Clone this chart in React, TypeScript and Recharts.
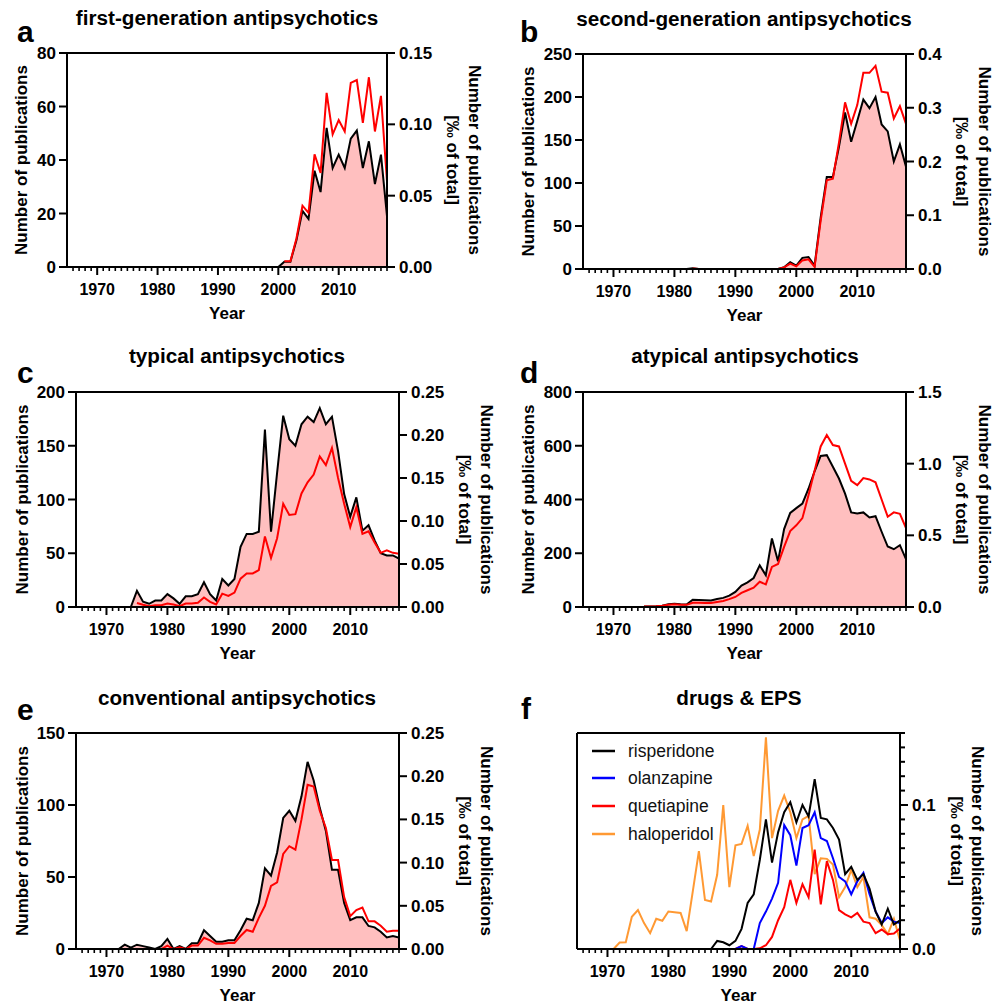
import React from 'react';
import { ComposedChart, Line, Area, XAxis, YAxis, ReferenceLine } from 'recharts';

// ---------- categories ----------
const FIRST_YEAR = 1965;
const LAST_YEAR = 2018;
const YEARS = Array.from({ length: LAST_YEAR - FIRST_YEAR + 1 }, (_, i) => FIRST_YEAR + i);
const YEAR_TICKS = YEARS.slice(1);
const DECADE_LABELS = [1970, 1980, 1990, 2000, 2010];

// ---------- a: first-generation ----------
const A_COUNT_START = 2000;
const A_COUNT = [0, 2, 2, 10, 21, 18, 36, 28, 52, 37, 42, 37, 48, 51, 37, 47, 31, 42, 19];
const A_SHARE_START = 2001;
const A_SHARE = [0.004, 0.004, 0.02, 0.043, 0.038, 0.079, 0.066, 0.122, 0.093, 0.103, 0.095, 0.129, 0.131, 0.101, 0.133, 0.095, 0.12, 0.06];

// ---------- b: second-generation ----------
const B_COUNT_START = 1982;
const B_COUNT = [0, 1, 0, 0, 0, 0, 0, 0, 0, 0, 0, 0, 0, 0, 0, 0, 2, 8, 4, 13, 14, 4, 60, 107, 107, 142, 182, 148, 172, 197, 187, 200, 168, 160, 125, 145, 119];
const B_SHARE_START = 1983;
const B_SHARE = [0.001, 0, 0, 0, 0, 0, 0, 0, 0, 0, 0, 0, 0, 0, 0, 0.003, 0.01, 0.005, 0.016, 0.018, 0.004, 0.09, 0.165, 0.168, 0.235, 0.31, 0.27, 0.305, 0.365, 0.365, 0.378, 0.33, 0.328, 0.28, 0.303, 0.27];

// ---------- c: typical ----------
const C_COUNT_START = 1974;
const C_COUNT = [0, 15, 5, 3, 6, 6, 12, 8, 3, 10, 10, 12, 23, 12, 6, 26, 20, 26, 56, 68, 68, 70, 165, 70, 125, 178, 156, 150, 170, 177, 172, 185, 170, 177, 145, 105, 84, 102, 71, 76, 62, 50, 48, 48, 45];
const C_SHARE_START = 1975;
const C_SHARE = [0.0047, 0.0027, 0.001, 0.002, 0.002, 0.004, 0.003, 0.001, 0.004, 0.004, 0.005, 0.011, 0.006, 0.003, 0.0155, 0.0128, 0.0167, 0.033, 0.039, 0.039, 0.043, 0.082, 0.057, 0.08, 0.12, 0.107, 0.108, 0.132, 0.145, 0.154, 0.175, 0.165, 0.185, 0.15, 0.12, 0.093, 0.116, 0.085, 0.088, 0.075, 0.063, 0.066, 0.063, 0.062];

// ---------- d: atypical ----------
const D_COUNT_START = 1975;
const D_COUNT = [2, 2, 3, 5, 10, 12, 10, 9, 27, 26, 25, 24, 30, 34, 42, 56, 80, 92, 108, 155, 118, 255, 170, 290, 350, 368, 385, 440, 505, 562, 565, 522, 478, 422, 352, 348, 352, 333, 338, 280, 225, 215, 230, 178];
const D_SHARE_START = 1975;
const D_SHARE = [0.003, 0.003, 0.005, 0.008, 0.015, 0.02, 0.015, 0.015, 0.03, 0.03, 0.028, 0.028, 0.035, 0.042, 0.055, 0.07, 0.098, 0.117, 0.135, 0.176, 0.158, 0.28, 0.3, 0.42, 0.53, 0.57, 0.62, 0.78, 0.95, 1.12, 1.2, 1.13, 1.12, 1.0, 0.88, 0.85, 0.9, 0.89, 0.87, 0.75, 0.63, 0.66, 0.65, 0.55];

// ---------- e: conventional ----------
const E_COUNT_START = 1965;
const E_COUNT = [0, 0, 0, 0, 0, 0, 0, 0, 3, 1, 3, 2, 1, 0, 2, 7, 0, 2, 0, 4, 4, 13, 9, 5, 5, 6, 6, 13, 21, 20, 32, 56, 51, 67, 91, 96, 89, 106, 130, 117, 98, 82, 55, 55, 32, 20, 22, 22, 16, 15, 12, 8, 9, 8];
const E_SHARE_START = 1965;
const E_SHARE = [0, 0, 0, 0, 0, 0, 0, 0, 0, 0, 0, 0, 0, 0, 0, 0.004, 0, 0.002, 0, 0.004, 0.004, 0.013, 0.01, 0.006, 0.006, 0.007, 0.007, 0.015, 0.022, 0.02, 0.036, 0.05, 0.073, 0.077, 0.11, 0.119, 0.115, 0.15, 0.19, 0.188, 0.16, 0.14, 0.103, 0.103, 0.06, 0.038, 0.045, 0.048, 0.032, 0.032, 0.027, 0.02, 0.021, 0.021];

// ---------- f: drugs & EPS (‰ of total) ----------
const RISPERIDONE_START = 1987;
const RISPERIDONE = [0, 0.0056, 0.0047, 0.0026, 0.0056, 0.014, 0.032, 0.038, 0.062, 0.09, 0.06, 0.081, 0.095, 0.102, 0.088, 0.1, 0.092, 0.118, 0.091, 0.09, 0.084, 0.076, 0.052, 0.057, 0.048, 0.052, 0.042, 0.026, 0.017, 0.028, 0.017, 0.02];
const OLANZAPINE_START = 1987;
const OLANZAPINE = [0, 0, 0, 0, 0, 0.002, 0, 0, 0.018, 0.026, 0.035, 0.046, 0.086, 0.079, 0.058, 0.084, 0.086, 0.095, 0.077, 0.075, 0.063, 0.05, 0.047, 0.038, 0.047, 0.053, 0.038, 0.026, 0.018, 0.022, 0.019, 0.018];
const QUETIAPINE_START = 1991;
const QUETIAPINE = [0, 0.002, 0, 0, 0.0005, 0.0026, 0.0084, 0.02, 0.029, 0.048, 0.032, 0.045, 0.036, 0.069, 0.031, 0.061, 0.048, 0.027, 0.024, 0.022, 0.025, 0.019, 0.018, 0.011, 0.0135, 0.0103, 0.0107, 0.0143];
const HALOPERIDOL_START = 1971;
const HALOPERIDOL = [0, 0.0045, 0.0047, 0.0224, 0.027, 0.018, 0.011, 0.021, 0.0196, 0.026, 0.0255, 0.025, 0.0124, 0.04, 0.068, 0.034, 0.033, 0.0515, 0.1, 0.043, 0.072, 0.073, 0.0855, 0.0645, 0.083, 0.147, 0.077, 0.096, 0.1065, 0.095, 0.077, 0.09, 0.0925, 0.052, 0.063, 0.0626, 0.0586, 0.036, 0.043, 0.055, 0.043, 0.05, 0.022, 0.021, 0.0166, 0.0103, 0.021, 0.006];

const F_NAMES = ['risperidone', 'olanzapine', 'quetiapine', 'haloperidol'];
const F_COLORS = ['#000000', '#0000ff', '#ff0000', '#ff9933'];
const F_RIGHT_TICKS = [0, 0.01, 0.02, 0.03, 0.04, 0.05, 0.06, 0.07, 0.08, 0.09, 0.1, 0.11, 0.12, 0.13, 0.14, 0.15];
const F_RIGHT_LABELS = [0, 0.1];

// ---------- titles / ticks ----------
const TITLES = ['first-generation antipsychotics', 'second-generation antipsychotics', 'typical antipsychotics', 'atypical antipsychotics', 'conventional antipsychotics', 'drugs & EPS'];
const LETTERS = ['a', 'b', 'c', 'd', 'e', 'f'];
const LEFT_TICKS = [[0, 20, 40, 60, 80], [0, 50, 100, 150, 200, 250], [0, 50, 100, 150, 200], [0, 200, 400, 600, 800], [0, 50, 100, 150]];
const RIGHT_TICKS = [[0, 0.05, 0.1, 0.15], [0, 0.1, 0.2, 0.3, 0.4], [0, 0.05, 0.1, 0.15, 0.2, 0.25], [0, 0.5, 1.0, 1.5], [0, 0.05, 0.1, 0.15, 0.2, 0.25]];
const RIGHT_DECIMALS = [2, 1, 2, 1, 2];

const FONT = '"Liberation Sans", Arial, Helvetica, sans-serif';
const PINK = '#ffbfbf';

type S = { key: string; start: number; values: number[] };
function makeRows(series: S[]) {
  return YEARS.map((y) => {
    const row: any = { year: y };
    for (const s of series) {
      const i = y - s.start;
      row[s.key] = i >= 0 && i < s.values.length ? s.values[i] : null;
    }
    return row;
  });
}

const PANELS = [
  { rect: [67, 53, 387, 267], count: [A_COUNT_START, A_COUNT], share: [A_SHARE_START, A_SHARE], lx: 21, rx: [474, 452] },
  { rect: [583, 54, 906, 269], count: [B_COUNT_START, B_COUNT], share: [B_SHARE_START, B_SHARE], lx: 528, rx: [984, 961] },
  { rect: [76, 392, 399, 607], count: [C_COUNT_START, C_COUNT], share: [C_SHARE_START, C_SHARE], lx: 22, rx: [486, 464] },
  { rect: [583, 392, 906, 607], count: [D_COUNT_START, D_COUNT], share: [D_SHARE_START, D_SHARE], lx: 528, rx: [984, 961] },
  { rect: [76, 733, 399, 949], count: [E_COUNT_START, E_COUNT], share: [E_SHARE_START, E_SHARE], lx: 22, rx: [486, 464] },
];
const F_RECT = [577, 733, 900, 949];
const F_RX = [977, 956];

const TITLE_POS = [[227, 25], [744, 26], [237, 363], [745, 363], [237, 705], [739, 705]];
const LETTER_POS = [[17, 42], [520, 42], [17, 383], [520, 383], [17, 720], [521, 719]];

const XTick = (props: any) => {
  const { x, y, payload } = props;
  const v = payload.value;
  const major = v % 10 === 0;
  return (
    <g>
      <line x1={x} x2={x} y1={y} y2={y + (major ? 8 : 4)} stroke="#000" strokeWidth={major ? 2 : 1.6} />
      {DECADE_LABELS.includes(v) && (
        <text x={x} y={y + 28} textAnchor="middle" fontFamily={FONT} fontWeight="bold" fontSize={16} fill="#000">
          {v}
        </text>
      )}
    </g>
  );
};

const LeftTick = (props: any) => {
  const { x, y, payload } = props;
  return (
    <g>
      <line x1={x} x2={x - 8} y1={y} y2={y} stroke="#000" strokeWidth={2} />
      <text x={x - 11} y={y + 6} textAnchor="end" fontFamily={FONT} fontWeight="bold" fontSize={17} fill="#000">
        {payload.value}
      </text>
    </g>
  );
};

const makeRightTick = (decimals: number, labels: number[] | null) => (props: any) => {
  const { x, y, payload } = props;
  const v = payload.value;
  const isLabel = labels ? labels.some((l) => Math.abs(l - v) < 1e-9) : true;
  return (
    <g>
      <line x1={x} x2={x + (isLabel ? 8 : 5)} y1={y} y2={y} stroke="#000" strokeWidth={2} />
      {isLabel && (
        <text x={x + 12} y={y + 6} textAnchor="start" fontFamily={FONT} fontWeight="bold" fontSize={17} fill="#000">
          {v.toFixed(decimals)}
        </text>
      )}
    </g>
  );
};

const AXIS_LINE = { stroke: '#000', strokeWidth: 2 };

function CountPanel({ idx }: { idx: number }) {
  const p = PANELS[idx];
  const [x0, y0, x1, y1] = p.rect;
  const w = x1 - x0 + 120;
  const h = y1 - y0 + 50;
  const rows = makeRows([
    { key: 'count', start: p.count[0] as number, values: p.count[1] as number[] },
    { key: 'share', start: p.share[0] as number, values: p.share[1] as number[] },
  ]);
  const lt = LEFT_TICKS[idx];
  const rt = RIGHT_TICKS[idx];
  return (
    <div style={{ position: 'absolute', left: x0 - 60, top: y0 - 10, width: w, height: h }}>
      <ComposedChart width={w} height={h} data={rows} margin={{ top: 10, right: 0, bottom: 0, left: 0 }}>
        <XAxis dataKey="year" type="number" domain={[FIRST_YEAR, LAST_YEAR]} ticks={YEAR_TICKS} interval={0} tick={XTick} tickLine={false} tickSize={0} tickMargin={0} height={40} axisLine={AXIS_LINE} allowDataOverflow />
        <YAxis yAxisId="left" type="number" domain={[0, lt[lt.length - 1]]} ticks={lt} interval={0} tick={LeftTick} tickLine={false} tickSize={0} tickMargin={0} width={60} axisLine={AXIS_LINE} />
        <YAxis yAxisId="right" orientation="right" type="number" domain={[0, rt[rt.length - 1]]} ticks={rt} interval={0} tick={makeRightTick(RIGHT_DECIMALS[idx], null)} tickLine={false} tickSize={0} tickMargin={0} width={60} axisLine={AXIS_LINE} />
        <Area yAxisId="left" type="linear" dataKey="count" fill={PINK} fillOpacity={1} stroke="none" isAnimationActive={false} connectNulls={false} />
        <Line yAxisId="left" type="linear" dataKey="count" stroke="#000" strokeWidth={2} dot={false} isAnimationActive={false} connectNulls={false} />
        <Line yAxisId="right" type="linear" dataKey="share" stroke="#ff0000" strokeWidth={2} dot={false} isAnimationActive={false} connectNulls={false} />
        <ReferenceLine yAxisId="left" y={lt[lt.length - 1]} stroke="#000" strokeWidth={2} />
      </ComposedChart>
    </div>
  );
}

function DrugPanel() {
  const [x0, y0, x1, y1] = F_RECT;
  const w = x1 - x0 + 120;
  const h = y1 - y0 + 50;
  const rows = makeRows([
    { key: 'haloperidol', start: HALOPERIDOL_START, values: HALOPERIDOL },
    { key: 'quetiapine', start: QUETIAPINE_START, values: QUETIAPINE },
    { key: 'olanzapine', start: OLANZAPINE_START, values: OLANZAPINE },
    { key: 'risperidone', start: RISPERIDONE_START, values: RISPERIDONE },
  ]);
  const order = [3, 2, 1, 0];
  return (
    <div style={{ position: 'absolute', left: x0 - 60, top: y0 - 10, width: w, height: h }}>
      <ComposedChart width={w} height={h} data={rows} margin={{ top: 10, right: 0, bottom: 0, left: 0 }}>
        <XAxis dataKey="year" type="number" domain={[FIRST_YEAR, LAST_YEAR]} ticks={YEAR_TICKS} interval={0} tick={XTick} tickLine={false} tickSize={0} tickMargin={0} height={40} axisLine={AXIS_LINE} allowDataOverflow />
        <YAxis yAxisId="left" type="number" domain={[0, 0.15]} tick={false} tickLine={false} width={60} axisLine={AXIS_LINE} />
        <YAxis yAxisId="right" orientation="right" type="number" domain={[0, 0.15]} ticks={F_RIGHT_TICKS} interval={0} tick={makeRightTick(1, F_RIGHT_LABELS)} tickLine={false} tickSize={0} tickMargin={0} width={60} axisLine={AXIS_LINE} />
        {order.map((i) => (
          <Line key={F_NAMES[i]} yAxisId="right" type="linear" dataKey={F_NAMES[i]} stroke={F_COLORS[i]} strokeWidth={2} dot={false} isAnimationActive={false} connectNulls={false} />
        ))}
        <ReferenceLine yAxisId="right" y={0.15} stroke="#000" strokeWidth={2} />
      </ComposedChart>
    </div>
  );
}

function Overlay() {
  const bold = { fontFamily: FONT, fontWeight: 'bold' as const, fill: '#000' };
  const items: React.ReactNode[] = [];
  TITLES.forEach((t, i) => {
    items.push(<text key={'t' + i} x={TITLE_POS[i][0]} y={TITLE_POS[i][1]} textAnchor="middle" fontSize={20.7} {...bold}>{t}</text>);
    items.push(<text key={'l' + i} x={LETTER_POS[i][0]} y={LETTER_POS[i][1]} textAnchor="start" fontSize={30} {...bold}>{LETTERS[i]}</text>);
  });
  const allRects = [...PANELS.map((p) => p.rect), F_RECT];
  const rxs = [...PANELS.map((p) => p.rx), F_RX];
  allRects.forEach((r, i) => {
    const cy = (r[1] + r[3]) / 2;
    const cx = (r[0] + r[2]) / 2;
    if (i < PANELS.length) {
      const lx = PANELS[i].lx;
      items.push(<text key={'ly' + i} x={lx} y={cy} transform={`rotate(-90, ${lx}, ${cy})`} textAnchor="middle" dominantBaseline="central" fontSize={17} {...bold}>Number of publications</text>);
    }
    const [ra, rb] = rxs[i];
    items.push(<text key={'ra' + i} x={ra} y={cy} transform={`rotate(90, ${ra}, ${cy})`} textAnchor="middle" dominantBaseline="central" fontSize={17} {...bold}>Number of publications</text>);
    items.push(<text key={'rb' + i} x={rb} y={cy} transform={`rotate(90, ${rb}, ${cy})`} textAnchor="middle" dominantBaseline="central" fontSize={17} {...bold}>[‰ of total]</text>);
    items.push(<text key={'x' + i} x={cx} y={r[3] + 52} textAnchor="middle" fontSize={17} {...bold}>Year</text>);
  });
  // legend for panel f
  const LEG_Y = [751, 778, 806, 834];
  F_NAMES.forEach((n, i) => {
    items.push(<line key={'gl' + i} x1={592} x2={615} y1={LEG_Y[i]} y2={LEG_Y[i]} stroke={F_COLORS[i]} strokeWidth={2.5} />);
    items.push(<text key={'gt' + i} x={628} y={LEG_Y[i]} dominantBaseline="central" fontFamily={FONT} fontSize={17.5} fill="#111">{n}</text>);
  });
  return (
    <svg width={1005} height={1005} style={{ position: 'absolute', left: 0, top: 0, pointerEvents: 'none' }}>
      {items}
    </svg>
  );
}

export default function App() {
  return (
    <div style={{ position: 'absolute', left: 0, top: 0, width: 1005, height: 1005, background: '#fff', overflow: 'hidden' }}>
      {PANELS.map((_, i) => (
        <CountPanel key={i} idx={i} />
      ))}
      <DrugPanel />
      <Overlay />
    </div>
  );
}
